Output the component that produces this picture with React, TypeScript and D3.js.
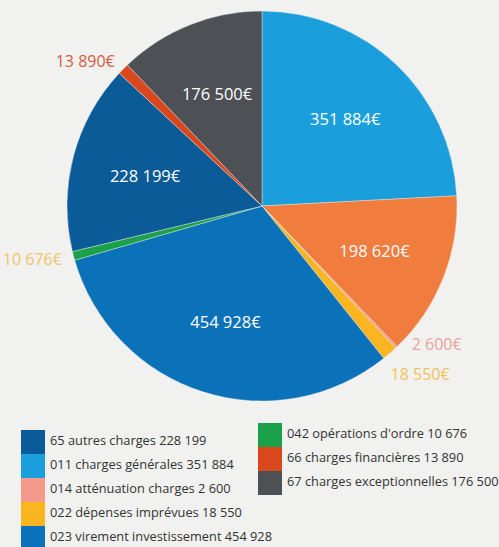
import React from "react";
import * as d3 from "d3";

// ---- data ----
const sliceNames = [
  "011 charges générales",
  "charges de personnel",
  "014 atténuation charges",
  "022 dépenses imprévues",
  "023 virement investissement",
  "042 opérations d'ordre",
  "65 autres charges",
  "66 charges financières",
  "67 charges exceptionnelles",
];
const sliceValues = [351884, 198620, 2600, 18550, 454928, 10676, 228199, 13890, 176500];
const sliceLabels = [
  "351 884€",
  "198 620€",
  "2 600€",
  "18 550€",
  "454 928€",
  "10 676€",
  "228 199€",
  "13 890€",
  "176 500€",
];
const sliceColors = [
  "#1b9fdc",
  "#f07c3e",
  "#f4998c",
  "#fbb520",
  "#0b72ba",
  "#19a049",
  "#0a5b98",
  "#d9471d",
  "#4d5055",
];
// label placement: inside (white) or outside (coloured text)
const labelOutside = [false, false, true, true, false, true, false, true, false];
const labelColors = ["#ffffff", "#ffffff", "#e7a59c", "#f2c15a", "#ffffff", "#f0c468", "#ffffff", "#d65a3c", "#ffffff"];

const legendLeftLabels = [
  "65 autres charges 228 199",
  "011 charges générales 351 884",
  "014 atténuation charges 2 600",
  "022 dépenses imprévues 18 550",
  "023 virement investissement 454 928",
];
const legendLeftColors = ["#0a5b98", "#1b9fdc", "#f4998c", "#fbb520", "#0b72ba"];
const legendRightLabels = [
  "042 opérations d'ordre 10 676",
  "66 charges financières 13 890",
  "67 charges exceptionnelles 176 500",
];
const legendRightColors = ["#19a049", "#d9471d", "#4d5055"];

const W = 499;
const H = 547;
const CX = 262;
const CY = 206;
const R = 195;
const FONT = "'Open Sans', 'Noto Sans', sans-serif";

export default function App() {
  const pie = d3.pie<number>().sort(null).value((d) => d);
  const arcs = pie(sliceValues);
  const arc = d3.arc<d3.PieArcDatum<number>>().innerRadius(0).outerRadius(R);
  const inArc = d3.arc<d3.PieArcDatum<number>>().innerRadius(R * 0.62).outerRadius(R * 0.62);
  const outArc = d3.arc<d3.PieArcDatum<number>>().innerRadius(R + 12).outerRadius(R + 12);

  // outside label positions with simple vertical relaxation
  const outside = arcs
    .map((a, i) => ({ i, pos: outArc.centroid(a) }))
    .filter((d) => labelOutside[d.i])
    .map((d) => ({ i: d.i, x: d.pos[0], y: d.pos[1] }));
  const gap = 30;
  for (let iter = 0; iter < 20; iter++) {
    for (let a = 0; a < outside.length; a++) {
      for (let b = a + 1; b < outside.length; b++) {
        const p = outside[a];
        const q = outside[b];
        if (Math.sign(p.x) !== Math.sign(q.x)) continue;
        const dy = q.y - p.y;
        if (Math.abs(dy) < gap) {
          const push = (gap - Math.abs(dy)) / 2;
          const dir = p.x > 0 ? 1 : -1;
          p.y -= push * dir;
          q.y += push * dir;
          // spread horizontally too: first outward, second inward
          p.x += push * 0.6;
          q.x -= push * 0.6;
        }
      }
    }
  }

  const legendRow = 24;
  const swW = 24;

  return (
    <svg
      width={W}
      height={H}
      style={{ position: "absolute", left: 0, top: 0, background: "#f1f1ef" }}
      fontFamily={FONT}
    >
      <rect x={0} y={0} width={W} height={H} fill="#f1f1ef" />
      <g transform={`translate(${CX},${CY})`}>
        {arcs.map((a, i) => (
          <path key={i} d={arc(a) || ""} fill={sliceColors[i]} stroke="#f1f1ef" strokeWidth={0.4} />
        ))}
        {arcs.map((a, i) => {
          if (labelOutside[i]) return null;
          const [x, y] = inArc.centroid(a);
          return (
            <text
              key={"l" + i}
              x={x}
              y={y}
              textAnchor="middle"
              dominantBaseline="central"
              fill={labelColors[i]}
              fontSize={16.5}
            >
              {sliceLabels[i]}
            </text>
          );
        })}
        {outside.map((d) => (
          <text
            key={"o" + d.i}
            x={d.x}
            y={d.y}
            textAnchor={d.x < 0 ? "end" : "start"}
            dominantBaseline="central"
            fill={labelColors[d.i]}
            fontSize={16}
          >
            {sliceLabels[d.i]}
          </text>
        ))}
      </g>
      <g transform="translate(21,430)">
        {legendLeftLabels.map((t, i) => (
          <g key={t} transform={`translate(0,${i * legendRow})`}>
            <rect width={swW} height={legendRow} fill={legendLeftColors[i]} />
            <text x={swW + 5} y={legendRow / 2 - 2} dominantBaseline="central" fontSize={12.8} fill="#333">
              {t}
            </text>
          </g>
        ))}
      </g>
      <g transform="translate(258,423)">
        {legendRightLabels.map((t, i) => (
          <g key={t} transform={`translate(0,${i * legendRow})`}>
            <rect width={swW} height={legendRow} fill={legendRightColors[i]} />
            <text x={swW + 5} y={legendRow / 2 - 2} dominantBaseline="central" fontSize={12.8} fill="#333">
              {t}
            </text>
          </g>
        ))}
      </g>
    </svg>
  );
}
